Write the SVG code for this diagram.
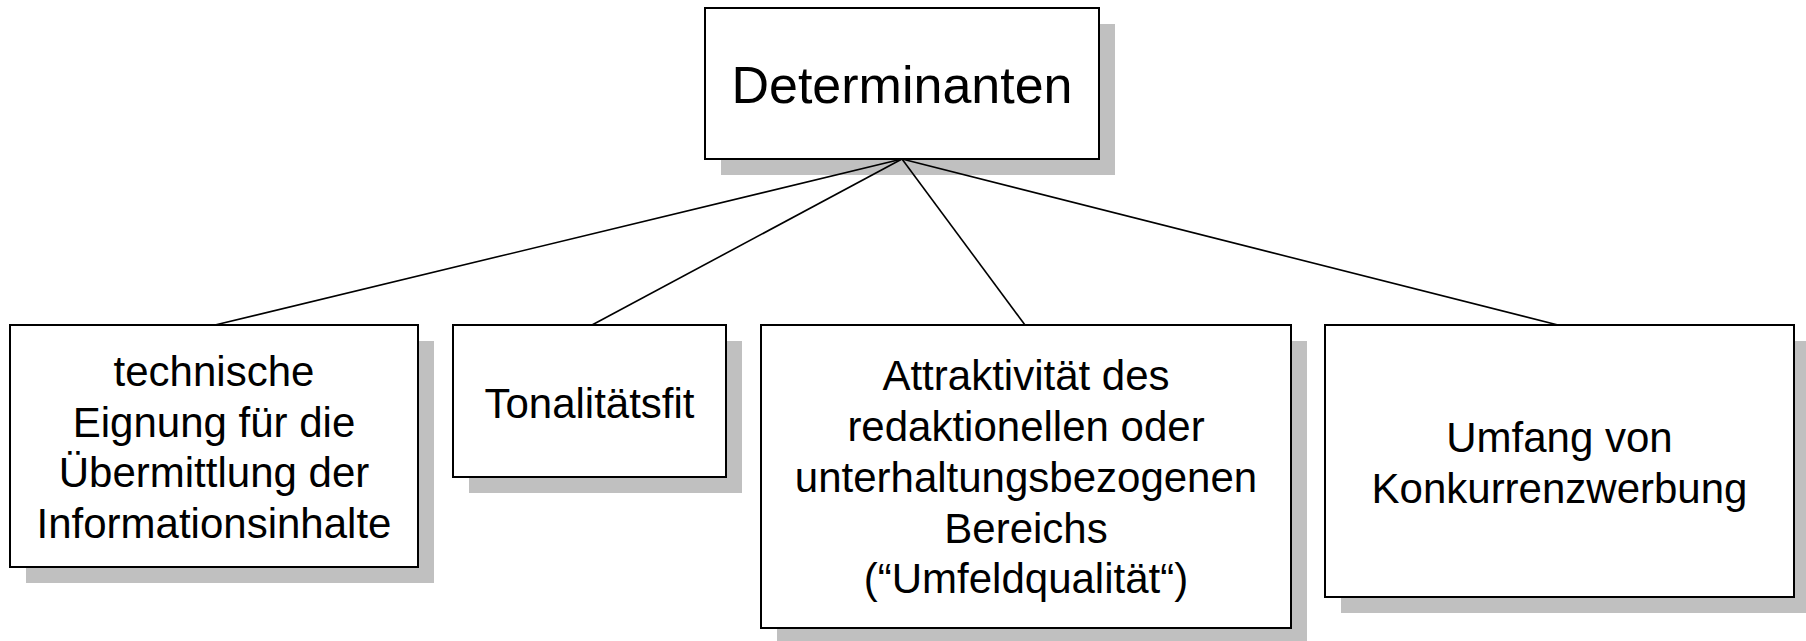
<svg xmlns="http://www.w3.org/2000/svg" width="1806" height="641" viewBox="0 0 1806 641">
<style>
.shadow{fill:#c0c0c0;stroke:none}
.box{fill:#ffffff;stroke:#000000;stroke-width:2}
.conn{stroke:#000000;stroke-width:1.6;fill:none}
text{font-family:"Liberation Sans",Arial,sans-serif;fill:#000000;text-anchor:middle}
.t{font-size:42px}
.h{font-size:52px}
</style>
<rect width="1806" height="641" fill="#ffffff"/>
<g id="node-determinanten">
<rect class="shadow" x="721" y="24" width="394" height="151"/>
<rect class="box" x="705" y="8" width="394" height="151"/>
<text class="h" x="902" y="103">Determinanten</text>
</g>
<g id="node-technische">
<rect class="shadow" x="26" y="341" width="408" height="242"/>
<rect class="box" x="10" y="325" width="408" height="242"/>
<text class="t" x="214" y="386">technische</text>
<text class="t" x="214" y="437">Eignung für die</text>
<text class="t" x="214" y="487">Übermittlung der</text>
<text class="t" x="214" y="538">Informationsinhalte</text>
</g>
<g id="node-tonalitaetsfit">
<rect class="shadow" x="469" y="341" width="273" height="152"/>
<rect class="box" x="453" y="325" width="273" height="152"/>
<text class="t" x="589.5" y="418">Tonalitätsfit</text>
</g>
<g id="node-attraktivitaet">
<rect class="shadow" x="777" y="341" width="530" height="303"/>
<rect class="box" x="761" y="325" width="530" height="303"/>
<text class="t" x="1026" y="390">Attraktivität des</text>
<text class="t" x="1026" y="441">redaktionellen oder</text>
<text class="t" x="1026" y="492">unterhaltungsbezogenen</text>
<text class="t" x="1026" y="543">Bereichs</text>
<text class="t" x="1026" y="593">(“Umfeldqualität“)</text>
</g>
<g id="node-umfang">
<rect class="shadow" x="1341" y="341" width="469" height="272"/>
<rect class="box" x="1325" y="325" width="469" height="272"/>
<text class="t" x="1559.5" y="452">Umfang von</text>
<text class="t" x="1559.5" y="503">Konkurrenzwerbung</text>
</g>
<g id="connectors">
<line class="conn" x1="902" y1="159" x2="215" y2="325"/>
<line class="conn" x1="902" y1="159" x2="592" y2="325"/>
<line class="conn" x1="902" y1="159" x2="1025" y2="325"/>
<line class="conn" x1="902" y1="159" x2="1558" y2="325"/>
</g>
</svg>
